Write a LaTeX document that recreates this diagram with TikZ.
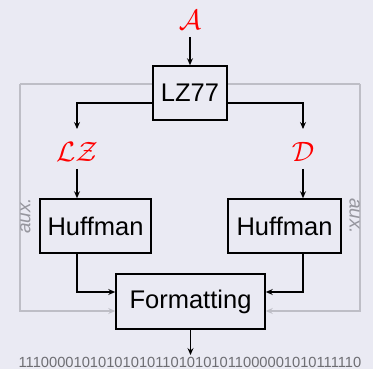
\RequirePackage{fix-cm}
\documentclass[tikz,border=0pt]{standalone}
\usepackage{fontspec}
\setmainfont{Liberation Sans}
\usetikzlibrary{arrows.meta}
\definecolor{bgc}{RGB}{234,234,243}
\definecolor{auxline}{RGB}{190,190,198}
\definecolor{auxtext}{RGB}{150,150,158}
\definecolor{bitc}{RGB}{110,110,115}
\tikzset{
  blk/.style={draw=black, line width=1.6pt, fill=bgc, inner sep=0pt, font=\fontsize{25.5}{28}\selectfont, text=black},
  lbl/.style={text=red, inner sep=0pt, font=\fontsize{28}{32}\selectfont},
  conn/.style={line width=1.5pt, -{Stealth[length=7pt,width=6pt,inset=2.5pt]}},
  auxconn/.style={auxline, line width=1.3pt, -{Stealth[length=7pt,width=6pt,inset=2.5pt]}},
  auxlbl/.style={text=auxtext, inner sep=0pt, font=\fontsize{19}{22}\selectfont\itshape},
}
\begin{document}
\begin{tikzpicture}[x=1pt,y=-1pt]
\useasboundingbox[fill=bgc] (0,0) rectangle (373,369);
% auxiliary gray paths
\coordinate (gl) at (20,84);
\coordinate (gr) at (360,84);
\coordinate (glb) at (20,311);
\coordinate (grb) at (360,311);
\draw[auxline, line width=1.3pt] (gl) -- (gr);
\node[blk, minimum width=74pt, minimum height=54pt] (lz) at (190,93) {LZ77};
\node[blk, minimum width=111pt, minimum height=54pt] (h1) at (95.5,226) {Huffman};
\node[blk, minimum width=113pt, minimum height=54pt] (h2) at (284.5,226) {Huffman};
\node[blk, minimum width=149pt, minimum height=55pt] (fmt) at (190.5,301.5) {Formatting};
\draw[auxconn] (gl) -- (glb) -- (fmt.west |- glb);
\draw[auxconn] (gr) -- (grb) -- (fmt.east |- grb);
\node[auxlbl, rotate=90, anchor=north] (al) at (20,216) {aux.};
\node[auxlbl, rotate=-90, anchor=north] (ar) at (360,216) {aux.};
% labels
\node[lbl] (A) at (190,20) {$\mathcal{A}$};
\node[lbl] (LZ) at (77,152) {$\mathcal{LZ}$};
\node[lbl] (D) at (303,152) {$\mathcal{D}$};
\node[text=bitc, inner sep=0pt, font=\fontsize{14.7}{16}\selectfont] (bits) at (190,362) {1110000101010101011010101011000001010111110};
% connectors
\coordinate (atop) at (190,37);
\coordinate (lzl) at (77,103);
\coordinate (lzr) at (303,103);
\coordinate (lzlend) at (77,129);
\coordinate (lzrend) at (303,129);
\coordinate (lzlstart) at (77,169);
\coordinate (lzrstart) at (303,169);
\coordinate (bl) at (77,292);
\coordinate (br) at (303,292);
\coordinate (bitstop) at (190.5,355);
\draw[conn] (atop) -- (lz.north);
\draw[conn] (lz.west |- lzl) -- (lzl) -- (lzlend);
\draw[conn] (lz.east |- lzr) -- (lzr) -- (lzrend);
\draw[conn] (lzlstart) -- (lzlstart |- h1.north);
\draw[conn] (lzrstart) -- (lzrstart |- h2.north);
\draw[conn] (bl |- h1.south) -- (bl) -- (fmt.west |- bl);
\draw[conn] (br |- h2.south) -- (br) -- (fmt.east |- br);
\draw[conn] (fmt.south) -- (bitstop);
\end{tikzpicture}
\end{document}
